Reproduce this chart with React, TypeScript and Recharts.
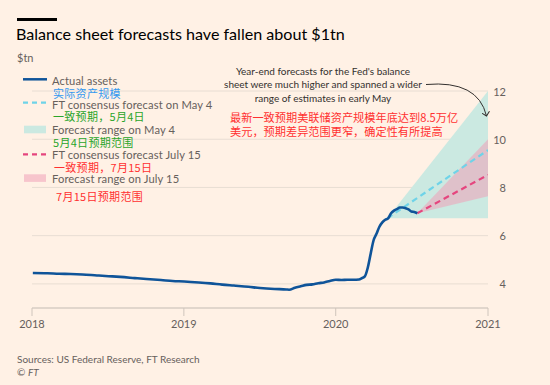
import React from 'react';
import { ComposedChart, Line, Area, XAxis, YAxis, CartesianGrid } from 'recharts';

// ---- data ----
const actualDates = [
  '2018-01-03', '2018-02-07', '2018-03-07', '2018-04-04', '2018-05-02', '2018-06-06',
  '2018-07-04', '2018-08-01', '2018-09-05', '2018-10-03', '2018-11-07', '2018-12-05',
  '2019-01-02', '2019-02-06', '2019-03-06', '2019-04-03', '2019-05-01', '2019-06-05',
  '2019-07-03', '2019-08-07', '2019-09-04', '2019-09-11', '2019-09-25', '2019-10-09',
  '2019-10-23', '2019-11-06', '2019-11-20', '2019-12-04', '2019-12-18', '2020-01-01',
  '2020-01-15', '2020-01-29', '2020-02-12', '2020-02-26', '2020-03-04', '2020-03-11',
  '2020-03-18', '2020-03-25', '2020-04-01', '2020-04-08', '2020-04-15', '2020-04-22',
  '2020-04-29', '2020-05-06', '2020-05-13', '2020-05-20', '2020-05-27', '2020-06-03',
  '2020-06-10', '2020-06-17', '2020-06-24', '2020-07-01', '2020-07-08', '2020-07-15',
];
const actualValues = [
  4.45, 4.44, 4.42, 4.41, 4.39, 4.35,
  4.32, 4.29, 4.24, 4.20, 4.16, 4.12,
  4.10, 4.06, 4.02, 3.97, 3.93, 3.88,
  3.83, 3.79, 3.77, 3.76, 3.84, 3.90,
  3.96, 3.98, 4.03, 4.06, 4.12, 4.17,
  4.16, 4.17, 4.17, 4.18, 4.24, 4.31,
  4.67, 5.25, 5.81, 6.08, 6.37, 6.55,
  6.66, 6.72, 6.93, 7.04, 7.10, 7.17,
  7.17, 7.14, 7.09, 7.00, 6.98, 6.93,
];

const mayDates = ['2020-05-04', '2021-01-01'];
const mayConsensus = [6.72, 9.55];
const mayLow = [6.72, 6.72];
const mayHigh = [6.72, 12.0];

const julyDates = ['2020-07-15', '2021-01-01'];
const julyConsensus = [6.93, 8.52];
const julyLow = [6.93, 7.63];
const julyHigh = [6.93, 10.0];

const xTickLabels = ['2018', '2019', '2020', '2021'];
const yTicks = [4, 6, 8, 10, 12];

// ---- helpers ----
const ts = (d: string) => Date.parse(d + 'T00:00:00Z');

const actualData = actualDates.map((d, i) => ({ t: ts(d), v: actualValues[i] }));
const mayData = mayDates.map((d, i) => ({ t: ts(d), c: mayConsensus[i], r: [mayLow[i], mayHigh[i]] }));
const julyData = julyDates.map((d, i) => ({ t: ts(d), c: julyConsensus[i], r: [julyLow[i], julyHigh[i]] }));

const xTicks = xTickLabels.map((y) => ts(y + '-01-01'));

const FONT = 'Lato, "Noto Sans", sans-serif';
const CJK = '"Noto Sans CJK SC", sans-serif';
const GREY = '#66605c';
const BG = '#fff1e5';
const BLUE = '#0f5499';
const CYAN = '#6fd3e8';
const PINK = '#e5457e';
const TEAL_FILL = '#cbe9e1';
const PINK_FILL = '#f0a0b8';

const YTick = (props: any) => {
  const { y, payload } = props;
  return (
    <text x={506} y={y} textAnchor="end" dominantBaseline="central" fill={GREY} fontSize={11} fontFamily={FONT}>
      {payload.value}
    </text>
  );
};

const abs = (left: number, top: number, extra: React.CSSProperties = {}): React.CSSProperties => ({
  position: 'absolute',
  left,
  top,
  whiteSpace: 'nowrap',
  ...extra,
});

const legendText = (top: number): React.CSSProperties =>
  abs(52, top - 5.5, { fontFamily: FONT, fontSize: 11.2, lineHeight: '11px', letterSpacing: '0.1px', color: GREY });

const cnText = (left: number, top: number, color: string): React.CSSProperties =>
  abs(left, top - 5.5, { fontFamily: CJK, fontSize: 11, lineHeight: '11px', letterSpacing: '0.3px', color });

export default function App() {
  return (
    <div style={{ position: 'absolute', left: 0, top: 0, width: 550, height: 385, background: BG, overflow: 'hidden' }}>
      <ComposedChart
        width={550}
        height={385}
        margin={{ top: 91, left: 32, right: 12, bottom: 47 }}
        style={{ position: 'absolute', left: 0, top: 0 }}
      >
        <CartesianGrid horizontal vertical={false} stroke="#e8ddd3" strokeWidth={1} />
        <XAxis
          dataKey="t"
          type="number"
          domain={[xTicks[0], xTicks[xTicks.length - 1]]}
          ticks={xTicks}
          allowDataOverflow
          tickFormatter={(v: number) => String(new Date(v).getUTCFullYear())}
          height={30}
          tickSize={8}
          tickMargin={4}
          axisLine={{ stroke: '#cfc5bc' }}
          tickLine={{ stroke: '#cfc5bc' }}
          tick={{ fill: GREY, fontSize: 11, fontFamily: FONT }}
        />
        <YAxis
          orientation="right"
          type="number"
          domain={[3, 12]}
          ticks={yTicks}
          width={50}
          axisLine={false}
          tickLine={false}
          tick={<YTick />}
        />
        <Area
          data={mayData}
          dataKey="r"
          type="linear"
          stroke="none"
          fill={TEAL_FILL}
          fillOpacity={1}
          isAnimationActive={false}
        />
        <Area
          data={julyData}
          dataKey="r"
          type="linear"
          stroke="none"
          fill={PINK_FILL}
          fillOpacity={0.55}
          isAnimationActive={false}
        />
        <Line
          data={mayData}
          dataKey="c"
          type="linear"
          stroke={CYAN}
          strokeWidth={2.2}
          strokeDasharray="6 4"
          dot={false}
          isAnimationActive={false}
        />
        <Line
          data={julyData}
          dataKey="c"
          type="linear"
          stroke={PINK}
          strokeWidth={2.2}
          strokeDasharray="6 4"
          dot={false}
          isAnimationActive={false}
        />
        <Line
          data={actualData}
          dataKey="v"
          type="monotone"
          stroke={BLUE}
          strokeWidth={2.6}
          dot={false}
          isAnimationActive={false}
        />
      </ComposedChart>

      {/* title */}
      <div style={abs(17, 18, { width: 40, height: 3, background: '#000' })} />
      <div style={abs(16, 24, { fontFamily: FONT, fontSize: 16.1, lineHeight: '20px', color: '#000' })}>
        Balance sheet forecasts have fallen about $1tn
      </div>
      <div style={abs(17, 52, { fontFamily: FONT, fontSize: 11, lineHeight: '12px', color: GREY })}>$tn</div>

      {/* legend */}
      <svg width={40} height={200} style={{ position: 'absolute', left: 20, top: 70 }}>
        <line x1={3} x2={27} y1={9.3} y2={9.3} stroke={BLUE} strokeWidth={2.5} />
        <line x1={3} x2={27} y1={32.7} y2={32.7} stroke={CYAN} strokeWidth={2.2} strokeDasharray="5 4" />
        <rect x={4} y={55.7} width={22} height={7.6} fill={TEAL_FILL} />
        <line x1={3} x2={27} y1={84.3} y2={84.3} stroke={PINK} strokeWidth={2.2} strokeDasharray="5 4" />
        <rect x={4} y={104.3} width={22} height={7.6} fill={PINK_FILL} fillOpacity={0.55} />
      </svg>
      <div style={legendText(80.5)}>Actual assets</div>
      <div style={cnText(53, 93, '#3399f0')}>实际资产规模</div>
      <div style={legendText(104)}>FT consensus forecast on May 4</div>
      <div style={cnText(53, 116, '#2aa52a')}>一致预期，5月4日</div>
      <div style={legendText(129.8)}>Forecast range on May 4</div>
      <div style={cnText(53, 142, '#2aa52a')}>5月4日预期范围</div>
      <div style={legendText(154)}>FT consensus forecast July 15</div>
      <div style={cnText(54, 167.5, '#ff3030')}>一致预期，7月15日</div>
      <div style={legendText(178.5)}>Forecast range on July 15</div>
      <div style={cnText(56, 196, '#ff3030')}>7月15日预期范围</div>

      {/* annotation */}
      <div
        style={abs(223, 65, {
          width: 200,
          textAlign: 'center',
          fontFamily: FONT,
          fontSize: 10,
          lineHeight: '13.3px',
          color: '#33302e',
        })}
      >
        Year-end forecasts for the Fed's balance
        <br />
        sheet were much higher and spanned a wider
        <br />
        range of estimates in early May
      </div>
      <svg width={550} height={385} style={{ position: 'absolute', left: 0, top: 0, pointerEvents: 'none' }}>
        <defs>
          <marker id="arr" markerWidth={8} markerHeight={8} refX={4} refY={4} orient="auto" markerUnits="userSpaceOnUse">
            <path d="M0,0 L4,4 L0,8" fill="none" stroke="#33302e" strokeWidth={1} />
          </marker>
        </defs>
        <path d="M426,84.5 Q478,80 486.5,116" fill="none" stroke="#33302e" strokeWidth={1} markerEnd="url(#arr)" />
      </svg>
      <div style={abs(230, 111, { fontFamily: CJK, fontSize: 11.2, lineHeight: '13.8px', color: '#ff3030' })}>
        最新一致预期美联储资产规模年底达到8.5万亿
        <br />
        美元，预期差异范围更窄，确定性有所提高
      </div>

      {/* source */}
      <div style={abs(17, 354, { fontFamily: FONT, fontSize: 10, lineHeight: '11px', color: GREY })}>
        Sources: US Federal Reserve, FT Research
      </div>
      <div style={abs(17, 367, { fontFamily: FONT, fontSize: 10, lineHeight: '11px', color: GREY })}>
        © <i>FT</i>
      </div>
    </div>
  );
}
